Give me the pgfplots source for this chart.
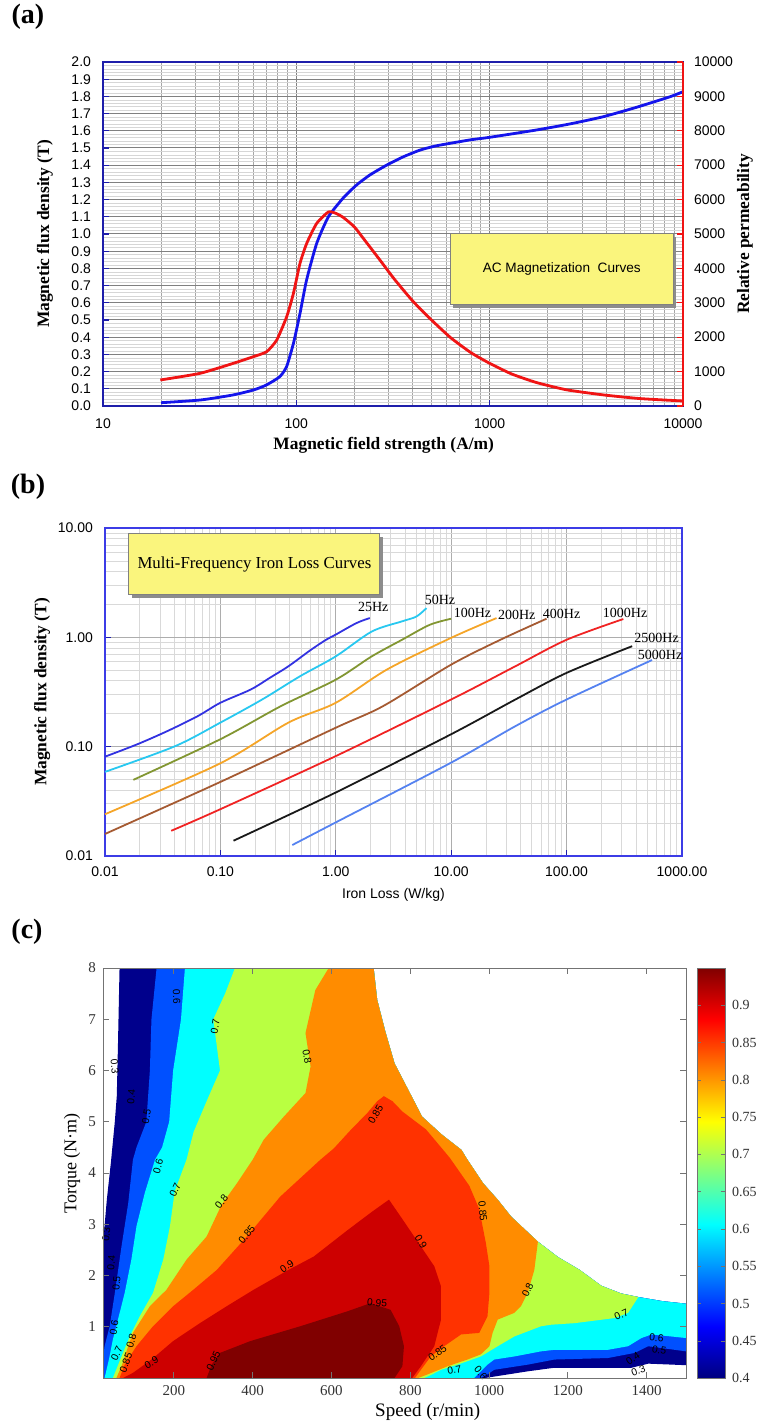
\documentclass[border=0pt]{standalone}
\usepackage{fontspec}
\setmainfont{Liberation Serif}
\setsansfont{Liberation Sans}
\usepackage{pgfplots}
\pgfplotsset{compat=1.18}
\usetikzlibrary{shadows}
\definecolor{spineA}{RGB}{30,30,170}
\definecolor{spineB}{RGB}{60,60,230}
\definecolor{boxyellow}{RGB}{250,245,125}
\definecolor{cB}{RGB}{20,20,235}
\definecolor{cR}{RGB}{240,20,20}
\definecolor{c25}{RGB}{50,50,225}
\definecolor{c50}{RGB}{40,200,240}
\definecolor{c100}{RGB}{130,150,50}
\definecolor{c200}{RGB}{245,165,40}
\definecolor{c400}{RGB}{165,90,50}
\definecolor{c1000}{RGB}{240,35,35}
\definecolor{c2500}{RGB}{25,25,25}
\definecolor{c5000}{RGB}{85,130,240}
\definecolor{j30}{RGB}{0,0,140}
\definecolor{j50}{RGB}{0,80,255}
\definecolor{j60}{RGB}{0,255,255}
\definecolor{j70}{RGB}{185,255,65}
\definecolor{j80}{RGB}{255,140,0}
\definecolor{j85}{RGB}{255,50,0}
\definecolor{j90}{RGB}{205,0,0}
\definecolor{j95}{RGB}{128,0,0}
\newcommand{\tickfont}{\fontsize{7}{8}\selectfont\sffamily}
\newcommand{\labfont}{\fontsize{8.7}{10}\selectfont\bfseries}
\newcommand{\clab}{\fontsize{5.1}{6}\selectfont\sffamily}
\begin{document}
\begin{tikzpicture}
\useasboundingbox (0,0) rectangle (378pt,713.5pt);
\node[font=\fontsize{14}{16}\selectfont\bfseries] at (14pt,705pt) {(a)};
\node[font=\fontsize{14}{16}\selectfont\bfseries] at (14pt,470pt) {(b)};
\node[font=\fontsize{14}{16}\selectfont\bfseries] at (13.5pt,247.5pt) {(c)};

% ---------------- panel (a) ----------------
\begin{axis}[
  at={(51.5pt,510.5pt)}, anchor=south west,
  scale only axis, width=290pt, height=172pt,
  xmode=log, xmin=10, xmax=10000, ymin=0, ymax=2,
  xtick={10,100,1000,10000}, xticklabels={10,100,1000,10000},
  ytick={0,0.1,0.2,0.3,0.4,0.5,0.6,0.7,0.8,0.9,1.0,1.1,1.2,1.3,1.4,1.5,1.6,1.7,1.8,1.9,2.0},
  yticklabels={0.0,0.1,0.2,0.3,0.4,0.5,0.6,0.7,0.8,0.9,1.0,1.1,1.2,1.3,1.4,1.5,1.6,1.7,1.8,1.9,2.0},
  minor y tick num=4,
  grid=both,
  major grid style={draw=black!50, line width=0.5pt},
  minor grid style={draw=black!16, line width=0.3pt},
  minor x grid style={draw=black!35, line width=0.4pt},
  axis line style={spineA, line width=0.9pt},
  tick style={spineA, line width=0.6pt}, major tick length=3pt, minor tick length=0pt,
  xtick pos=left, ytick pos=left, tick align=inside,
  tick label style={font=\tickfont},
  yticklabel style={xshift=-2.5pt},
  xticklabel style={yshift=-3pt},
  xlabel={Magnetic field strength (A/m)},
  xlabel style={font=\labfont, at={(axis description cs:0.484,-0.113)}, anchor=center},
  ylabel={Magnetic flux density (T)},
  ylabel style={font=\labfont, at={(axis description cs:-0.1,0.5)}, anchor=center},
]
\addplot[cB, line width=1.4pt, smooth, tension=0.35] coordinates {
(20,0.019) (32,0.035) (47,0.064) (60,0.093) (70,0.122) (82,0.17) (89,0.228)
(96.6,0.364) (104.5,0.539) (113,0.733) (127.5,0.946) (146.5,1.10) (175,1.21)
(205,1.285) (240,1.343) (294,1.401) (358,1.449) (437,1.488) (532,1.513) (792,1.547)
(1000,1.562) (1754,1.605) (2606,1.64) (3875,1.682) (5765,1.737) (8570,1.798) (10000,1.827)};
\node[draw=black!50, line width=0.5pt, fill=boxyellow, minimum width=111.5pt, minimum height=35.5pt,
  drop shadow={shadow xshift=1.6pt, shadow yshift=-1.6pt, fill=black!45, opacity=1},
  font=\fontsize{6.8}{8}\selectfont\sffamily] at (rel axis cs:0.791,0.397) {AC Magnetization\ \ Curves};
\end{axis}
\begin{axis}[
  at={(51.5pt,510.5pt)}, anchor=south west,
  scale only axis, width=290pt, height=172pt,
  xmode=log, xmin=10, xmax=10000, ymin=0, ymax=10000,
  axis x line=none, axis y line*=right,
  scaled y ticks=false,
  y axis line style={cR, line width=1.2pt},
  ytick={0,1000,2000,3000,4000,5000,6000,7000,8000,9000,10000},
  yticklabels={0,1000,2000,3000,4000,5000,6000,7000,8000,9000,10000},
  tick style={cR, line width=0.6pt}, major tick length=3pt, tick align=inside,
  yticklabel style={font=\tickfont, xshift=2pt},
  ylabel={Relative permeability},
  ylabel style={font=\labfont, at={(axis description cs:1.107,0.5)}, anchor=center},
]
\addplot[cR, line width=1.4pt, smooth, tension=0.35] coordinates {
(19.8,756) (31.8,950) (47.2,1240) (60,1434) (70.3,1580) (79.2,1920) (89.2,2600)
(96.6,3275) (104.5,4150) (113.2,4730) (127.5,5310) (146.5,5640) (160,5600)
(175,5480) (200,5200) (230,4760) (270,4250) (320,3700) (400,3050) (500,2500)
(630,1980) (800,1550) (1000,1240) (1300,930) (1750,680) (2500,470) (3900,320)
(6000,215) (10000,145)};
\end{axis}

% ---------------- panel (b) ----------------
\begin{axis}[
  at={(52.5pt,285.5pt)}, anchor=south west,
  scale only axis, width=288.5pt, height=164pt,
  xmode=log, ymode=log, xmin=0.01, xmax=1000, ymin=0.01, ymax=10,
  xtick={0.01,0.1,1,10,100,1000}, xticklabels={0.01,0.10,1.00,10.00,100.00,1000.00},
  ytick={0.01,0.1,1,10}, yticklabels={0.01,0.10,1.00,10.00},
  grid=both,
  major grid style={draw=black!32, line width=0.5pt},
  minor grid style={draw=black!15, line width=0.4pt},
  axis line style={spineB, line width=0.9pt},
  tick style={spineA, line width=0.6pt}, major tick length=3pt, minor tick length=0pt,
  xtick pos=left, ytick pos=left, tick align=inside,
  tick label style={font=\tickfont},
  yticklabel style={xshift=-2.5pt},
  xticklabel style={yshift=-2pt},
  clip=false,
  xlabel={Iron Loss (W/kg)},
  xlabel style={font=\fontsize{7}{8}\selectfont\sffamily, at={(axis description cs:0.5,-0.119)}, anchor=center},
  ylabel={Magnetic flux density (T)},
  ylabel style={font=\labfont, at={(axis description cs:-0.109,0.5)}, anchor=center},
]
\addplot[c25, line width=0.9pt, smooth] coordinates {
(0.01,0.081) (0.019,0.105) (0.0348,0.139) (0.0635,0.19) (0.1,0.252) (0.183,0.333) (0.267,0.425)
(0.389,0.544) (0.61,0.77) (0.828,0.953) (1.0,1.06) (1.51,1.35) (1.97,1.5)};
\addplot[c50, line width=0.9pt, smooth] coordinates {
(0.01,0.0588) (0.0405,0.101) (0.1,0.166) (0.23,0.27) (0.489,0.44) (1.0,0.67)
(2.05,1.13) (3.75,1.4) (5.0,1.55) (6.1,1.85)};
\addplot[c100, line width=0.9pt, smooth] coordinates {
(0.0176,0.0497) (0.1,0.117) (0.335,0.235) (1.0,0.41) (2.05,0.67) (3.75,0.95) (6.5,1.3) (10,1.48)};
\addplot[c200, line width=0.9pt, smooth] coordinates {
(0.01,0.0241) (0.1,0.0705) (0.389,0.166) (1.0,0.252) (2.77,0.507) (10,0.99) (24.7,1.5)};
\addplot[c400, line width=0.9pt, smooth] coordinates {
(0.01,0.0159) (0.1,0.0476) (1.0,0.149) (2.57,0.235) (10,0.563) (26.7,0.95) (67,1.48)};
\addplot[c1000, line width=0.9pt, smooth] coordinates {
(0.0375,0.017) (0.1,0.0268) (1.0,0.082) (10,0.27) (36,0.544) (100,0.95) (310,1.47)};
\addplot[c2500, line width=0.9pt, smooth] coordinates {
(0.13,0.0138) (1.0,0.0381) (10,0.13) (36,0.27) (100,0.473) (370,0.83)};
\addplot[c5000, line width=0.9pt, smooth] coordinates {
(0.42,0.0126) (1.0,0.0203) (10,0.0715) (36,0.154) (100,0.27) (550,0.62)};
\node[font=\fontsize{7}{8}\selectfont] at (axis cs:2.11,1.88) {25Hz};
\node[font=\fontsize{7}{8}\selectfont] at (axis cs:8.0,2.2) {50Hz};
\node[font=\fontsize{7}{8}\selectfont] at (axis cs:15.3,1.66) {100Hz};
\node[font=\fontsize{7}{8}\selectfont] at (axis cs:37,1.6) {200Hz};
\node[font=\fontsize{7}{8}\selectfont] at (axis cs:90.6,1.63) {400Hz};
\node[font=\fontsize{7}{8}\selectfont] at (axis cs:321,1.66) {1000Hz};
\node[font=\fontsize{7}{8}\selectfont] at (axis cs:603,0.98) {2500Hz};
\node[font=\fontsize{7}{8}\selectfont] at (axis cs:646,0.69) {5000Hz};
\node[draw=black!50, line width=0.5pt, fill=boxyellow, minimum width=125.5pt, minimum height=30.5pt,
  drop shadow={shadow xshift=1.6pt, shadow yshift=-1.6pt, fill=black!45, opacity=1},
  font=\fontsize{8.4}{10}\selectfont] at (rel axis cs:0.259,0.889) {Multi-Frequency Iron Loss Curves};
\end{axis}

% ---------------- panel (c) ----------------
\begin{axis}[
  at={(51.5pt,24.5pt)}, anchor=south west,
  scale only axis, width=291.5pt, height=205pt,
  xmin=20, xmax=1500, ymin=0, ymax=8,
  xtick={200,400,600,800,1000,1200,1400}, xticklabels={200,400,600,800,1000,1200,1400},
  ytick={1,2,3,4,5,6,7,8}, yticklabels={1,2,3,4,5,6,7,8},
  tick label style={font=\fontsize{7.5}{9}\selectfont, black!80},
  axis line style={black!55, line width=0.5pt},
  tick style={black!55, line width=0.5pt}, tick align=inside, major tick length=3pt,
  axis on top, clip=false,
  xlabel={Speed (r/min)},
  xlabel style={font=\fontsize{9.5}{11}\selectfont, at={(axis description cs:0.557,-0.083)}, anchor=center},
  ylabel={Torque (N·m)},
  ylabel style={font=\fontsize{9}{11}\selectfont, at={(axis description cs:-0.053,0.524)}, anchor=center},
  colormap/jet, colorbar, point meta min=0.4, point meta max=0.95,
  colorbar style={
    at={(parent axis.north east)}, anchor=north west, xshift=-3pt,
    scale only axis, width=14pt, height=205pt,
    ytick={0.4,0.45,0.5,0.55,0.6,0.65,0.7,0.75,0.8,0.85,0.9},
    yticklabels={0.4,0.45,0.5,0.55,0.6,0.65,0.7,0.75,0.8,0.85,0.9},
    yticklabel style={font=\fontsize{7}{8}\selectfont, black!80},
    axis line style={black!55}, tick style={black!55}, major tick length=2pt,
  },
]
% efficiency >= 0.3 (operating region)
\addplot[fill=j30, draw=none] coordinates {
(62,8) (58,6.5) (55,5.5) (50,5) (40,4.2) (30,3.5) (22,2.8) (20,2.5) (20,0) (990,0)
(1098,0.13) (1166,0.2) (1362,0.2) (1404,0.28) (1500,0.25) (1500,1.45) (1440,1.5)
(1379,1.58) (1335,1.65) (1285,1.8) (1230,2.11) (1175,2.36) (1124,2.66) (1056,3.15)
(1022,3.48) (985,3.8) (945,4.26) (930,4.45) (880,4.75) (830,5.1) (795,5.62) (760,6.14)
(737,6.75) (716,7.38) (707,8)};
% >= 0.5
\addplot[fill=j50, draw=none] coordinates {
(20,0) (20,0.36) (24,0.62) (37,1.01) (50,1.66) (67,2.57) (84,3.41) (96,4.26) (105,4.5)
(130,5) (139,6) (143,7) (156,8) (707,8) (716,7.38) (737,6.75) (760,6.14) (795,5.62)
(830,5.1) (880,4.75) (930,4.45) (945,4.26) (985,3.8) (1022,3.48) (1056,3.15) (1124,2.66)
(1175,2.36) (1230,2.11) (1285,1.8) (1335,1.65) (1379,1.58) (1440,1.5) (1500,1.45)
(1500,0.52) (1404,0.62) (1370,0.49) (1302,0.39) (1166,0.36) (1098,0.26) (1013,0.16)
(996,0.07) (979,0)};
% >= 0.6
\addplot[fill=j60, draw=none] coordinates {
(24,0) (35,0.36) (45,0.75) (58,1.14) (75,1.66) (92,2.31) (105,2.96) (126,3.61) (152,4.26)
(170,4.5) (188,5) (198,6) (218,7) (228,8) (707,8) (716,7.38) (737,6.75) (760,6.14)
(795,5.62) (830,5.1) (880,4.75) (930,4.45) (945,4.26) (985,3.8) (1022,3.48) (1056,3.15)
(1124,2.66) (1175,2.36) (1230,2.11) (1285,1.8) (1335,1.65) (1379,1.58) (1440,1.5)
(1500,1.45) (1500,0.78) (1413,0.85) (1387,0.78) (1353,0.62) (1302,0.55) (1166,0.55)
(1132,0.52) (1064,0.42) (1013,0.36) (996,0.26) (979,0.13) (962,0)};
% >= 0.7
\addplot[fill=j70, draw=none] coordinates {
(45,0) (67,0.42) (88,0.81) (113,1.2) (147,1.66) (173,2.31) (190,2.96) (202,3.64) (232,4.26)
(250,4.8) (283,5.4) (317,6) (300,7) (330,7.5) (355,8) (707,8) (716,7.38) (737,6.75)
(760,6.14) (795,5.62) (830,5.1) (880,4.75) (930,4.45) (945,4.26) (985,3.8) (1022,3.48)
(1056,3.15) (1124,2.66) (1175,2.36) (1230,2.11) (1285,1.8) (1335,1.65) (1379,1.58)
(1353,1.27) (1319,1.17) (1217,1.07) (1158,1.04) (1132,1.01) (1064,0.81) (1022,0.62)
(979,0.42) (920,0.26) (878,0.16) (850,0.05) (835,0)};
% >= 0.8
\addplot[fill=j80, draw=none] coordinates {
(54,0) (67,0.23) (84,0.62) (96,0.88) (139,1.4) (181,1.72) (232,2.31) (283,2.76) (321,3.38)
(360,3.8) (400,4.26) (428,4.65) (479,5.1) (534,5.56) (547,6.08) (534,6.73) (559,7.57)
(593,8) (707,8) (716,7.38) (737,6.75) (760,6.14) (795,5.62) (830,5.1) (880,4.75)
(930,4.45) (945,4.26) (985,3.8) (1022,3.48) (1056,3.15) (1124,2.66) (1115,2.11)
(1098,1.66) (1081,1.4) (1064,1.27) (1022,1.14) (1009,0.88) (1001,0.62) (979,0.46)
(945,0.36) (895,0.23) (844,0.07) (820,0)};
% >= 0.85
\addplot[fill=j85, draw=none] coordinates {
(62,0) (75,0.26) (105,0.62) (147,1.01) (198,1.4) (249,1.72) (309,2.11) (385,2.76)
(470,3.54) (572,4.26) (606,4.48) (650,4.85) (691,5.17) (716,5.4) (733,5.5) (755,5.4)
(780,5.2) (840,4.85) (900,4.3) (950,3.75) (975,3.3) (992,2.63) (1001,2.18) (1001,1.66)
(996,1.2) (975,0.88) (929,0.85) (886,0.62) (852,0.42) (827,0.16) (812,0)};
% >= 0.9
\addplot[fill=j90, draw=none] coordinates {
(71,0) (96,0.1) (143,0.36) (198,0.72) (266,1.07) (334,1.4) (402,1.72) (491,2.11)
(555,2.37) (640,2.88) (704,3.25) (746,3.48) (780,3.1) (810,2.76) (861,2.18) (878,1.79)
(878,1.14) (861,0.62) (827,0.23) (805,0)};
% >= 0.95
\addplot[fill=j95, draw=none] coordinates {
(283,0) (296,0.26) (317,0.49) (394,0.72) (521,1.01) (640,1.3) (699,1.46) (750,1.33)
(772,1.01) (784,0.62) (780,0.23) (760,0)};
% contour labels
\node[font=\clab, rotate=-85] at (axis cs:50,6.08) {0.3};
\node[font=\clab, rotate=85] at (axis cs:92,5.49) {0.4};
\node[font=\clab, rotate=80] at (axis cs:130,5.1) {0.5};
\node[font=\clab, rotate=-88] at (axis cs:207,7.44) {0.6};
\node[font=\clab, rotate=80] at (axis cs:305,6.86) {0.7};
\node[font=\clab, rotate=-80] at (axis cs:538,6.27) {0.8};
\node[font=\clab, rotate=75] at (axis cs:160,4.13) {0.6};
\node[font=\clab, rotate=65] at (axis cs:203,3.67) {0.7};
\node[font=\clab, rotate=50] at (axis cs:321,3.44) {0.8};
\node[font=\clab, rotate=50] at (axis cs:385,2.8) {0.85};
\node[font=\clab, rotate=35] at (axis cs:487,2.18) {0.9};
\node[font=\clab, rotate=-5] at (axis cs:716,1.47) {0.95};
\node[font=\clab, rotate=60] at (axis cs:712,5.15) {0.85};
\node[font=\clab, rotate=65] at (axis cs:300,0.33) {0.95};
\node[font=\clab, rotate=30] at (axis cs:143,0.3) {0.9};
\node[font=\clab, rotate=70] at (axis cs:78,0.3) {0.85};
\node[font=\clab, rotate=75] at (axis cs:92,0.72) {0.8};
\node[font=\clab, rotate=65] at (axis cs:55,0.48) {0.7};
\node[font=\clab, rotate=80] at (axis cs:48,0.98) {0.6};
\node[font=\clab, rotate=85] at (axis cs:54,1.85) {0.5};
\node[font=\clab, rotate=85] at (axis cs:41,2.25) {0.4};
\node[font=\clab, rotate=85] at (axis cs:28,2.8) {0.3};
\node[font=\clab, rotate=-85] at (axis cs:984,3.25) {0.85};
\node[font=\clab, rotate=-60] at (axis cs:827,2.66) {0.9};
\node[font=\clab, rotate=65] at (axis cs:1098,1.72) {0.8};
\node[font=\clab, rotate=25] at (axis cs:1336,1.24) {0.7};
\node[font=\clab, rotate=35] at (axis cs:869,0.49) {0.85};
\node[font=\clab, rotate=10] at (axis cs:912,0.16) {0.7};
\node[font=\clab, rotate=-50] at (axis cs:979,0.1) {0.6};
\node[font=\clab, rotate=-5] at (axis cs:1425,0.78) {0.6};
\node[font=\clab, rotate=-10] at (axis cs:1432,0.55) {0.5};
\node[font=\clab, rotate=35] at (axis cs:1365,0.38) {0.4};
\node[font=\clab, rotate=20] at (axis cs:1379,0.15) {0.3};
\end{axis}
\end{tikzpicture}
\end{document}
